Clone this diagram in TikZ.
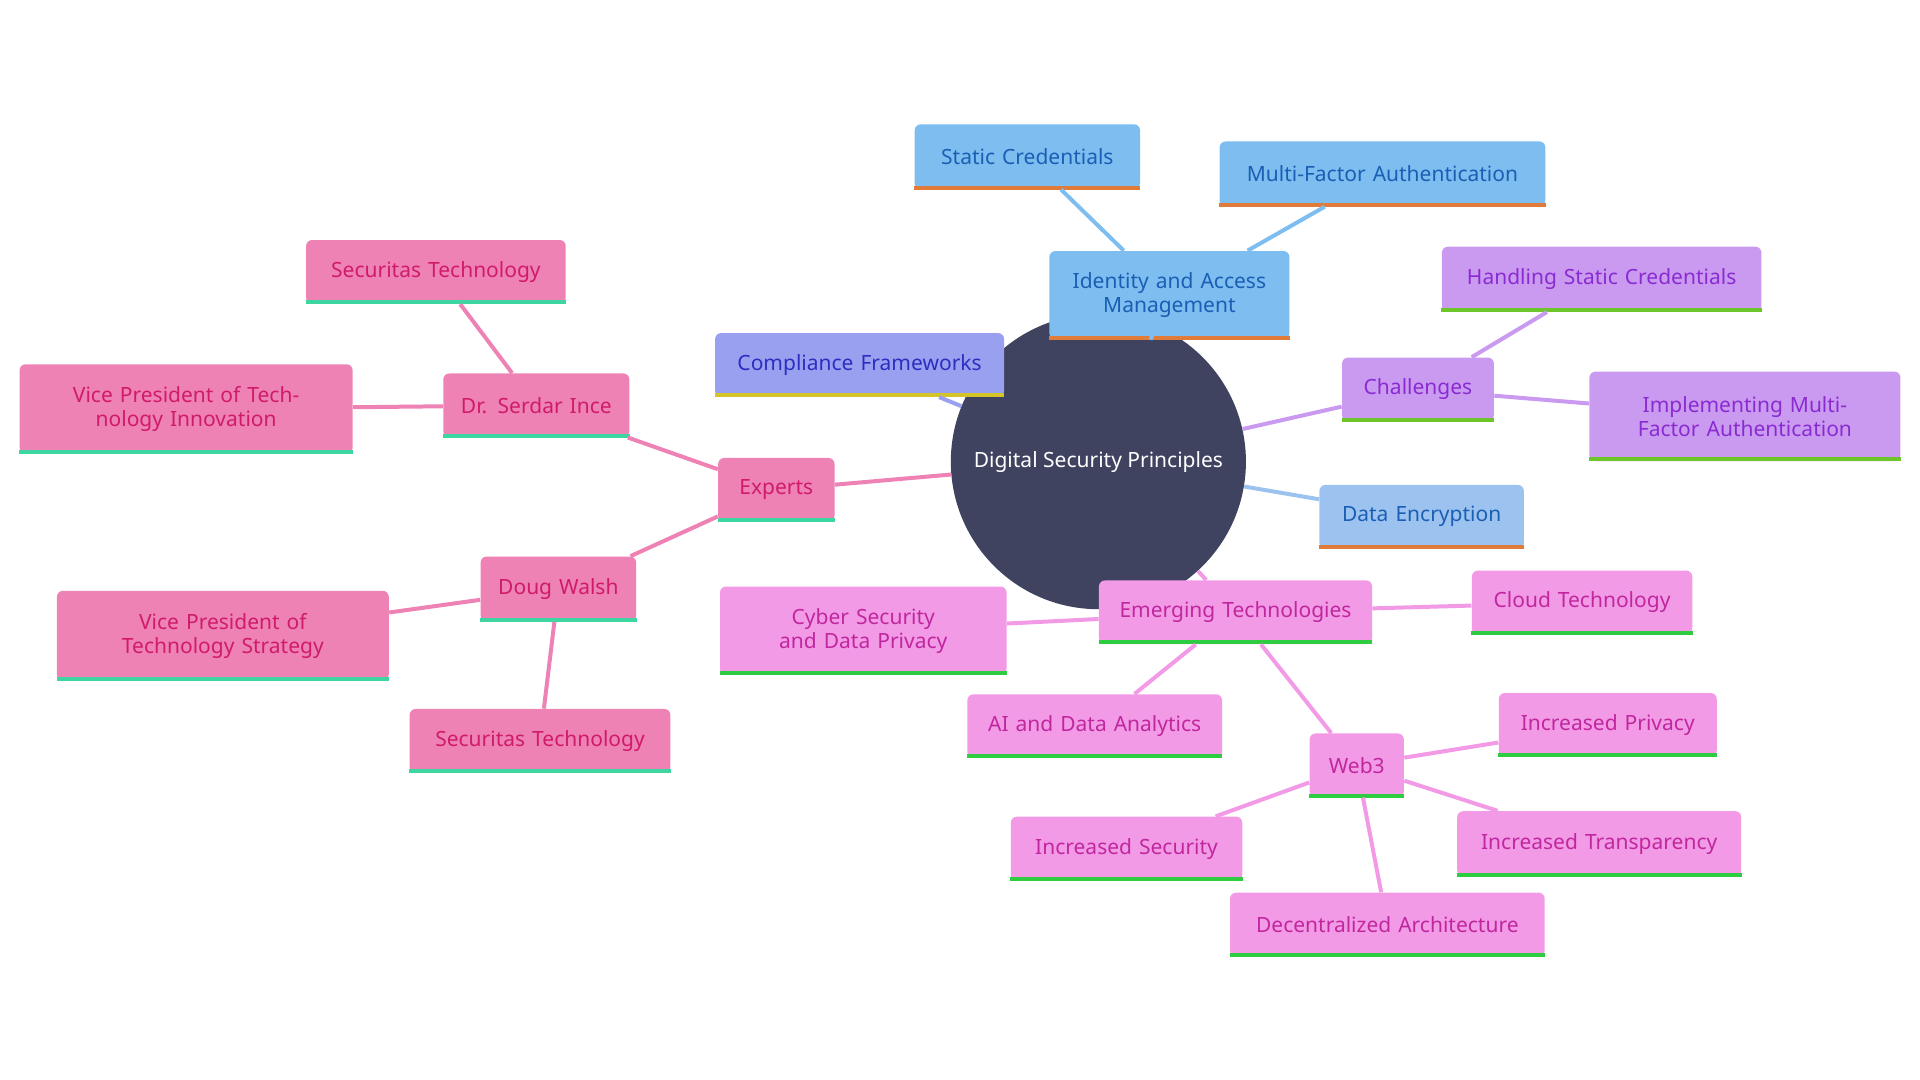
\documentclass[tikz,border=0pt]{standalone}
\usepackage{fontspec}
\setmainfont{Noto Sans}
\definecolor{bluF}{HTML}{7DBDF0}\definecolor{bluT}{HTML}{1A5FB4}\definecolor{bluB}{HTML}{E07B39}
\definecolor{bl2F}{HTML}{9CC3F0}
\definecolor{indF}{HTML}{9AA0F0}\definecolor{indT}{HTML}{2B2FC0}\definecolor{indB}{HTML}{D4C42A}
\definecolor{vioF}{HTML}{C99AF0}\definecolor{vioT}{HTML}{8A2BD2}\definecolor{vioB}{HTML}{6CC62A}
\definecolor{magF}{HTML}{F39AE6}\definecolor{magT}{HTML}{C0279F}\definecolor{magB}{HTML}{2ECC40}
\definecolor{pnkF}{HTML}{EE82B4}\definecolor{pnkT}{HTML}{D01B6A}\definecolor{pnkB}{HTML}{3DD6A0}
\definecolor{hub}{HTML}{3F4360}
\newcommand\mmnode[9]{%
  \node[mmbox,fill=#6,text=#7,minimum width={#4*0.6122pt},minimum height={#5*0.6122pt},text width={(#4-24)*0.6122pt}] (#1) at (#2,#3) {#9};
  \draw[#8,line width=2pt] ([yshift=1pt]#1.south west) -- ([yshift=1pt]#1.south east);}
\begin{document}
\begin{tikzpicture}[x=0.6122pt,y=-0.6122pt,
  mmbox/.style={rounded corners=3pt,inner sep=0pt,align=center,font=\fontsize{10.5}{12}\selectfont},
  edge/.style={line width=2pt}]
\useasboundingbox (0,0) rectangle (1568,882);
\node[circle,fill=hub,minimum size={241*0.6122pt},text=white,font=\fontsize{10.5}{12}\selectfont,inner sep=0pt] (hub) at (897,377) {Digital Security Principles};
% nodes
\begin{scope}[on background layer/.style={}]
\end{scope}
\mmnode{iam}{955}{241}{196}{72}{bluF}{bluT}{bluB}{Identity and Access Management}
\mmnode{sc}{839}{128}{184}{53}{bluF}{bluT}{bluB}{Static Credentials}
\mmnode{mfa}{1129}{142}{266}{53}{bluF}{bluT}{bluB}{Multi-Factor Authentication}
\mmnode{cf}{702}{298}{236}{52}{indF}{indT}{indB}{Compliance Frameworks}
\mmnode{ch}{1158}{318}{124}{52}{vioF}{vioT}{vioB}{Challenges}
\mmnode{hsc}{1308}{228}{261}{53}{vioF}{vioT}{vioB}{Handling Static Credentials}
\mmnode{imfa}{1425}{340}{254}{73}{vioF}{vioT}{vioB}{Implementing Multi-Factor Authentication}
\mmnode{de}{1161}{422}{167}{52}{bl2F}{bluT}{bluB}{Data Encryption}
\mmnode{et}{1009}{500}{223}{52}{magF}{magT}{magB}{Emerging Technologies}
\mmnode{ct}{1292}{492}{180}{52}{magF}{magT}{magB}{Cloud Technology}
\mmnode{csdp}{705}{515}{234}{72}{magF}{magT}{magB}{Cyber Security and Data Privacy}
\mmnode{ai}{894}{593}{208}{52}{magF}{magT}{magB}{AI and Data Analytics}
\mmnode{w3}{1108}{625}{77}{52}{magF}{magT}{magB}{Web3}
\mmnode{ip}{1313}{592}{178}{52}{magF}{magT}{magB}{Increased Privacy}
\mmnode{it}{1306}{689}{232}{53}{magF}{magT}{magB}{Increased Transparency}
\mmnode{is}{920}{693}{189}{52}{magF}{magT}{magB}{Increased Security}
\mmnode{da}{1133}{755}{257}{52}{magF}{magT}{magB}{Decentralized Architecture}
\mmnode{ex}{634}{400}{95}{52}{pnkF}{pnkT}{pnkB}{Experts}
\mmnode{dsi}{438}{331}{152}{52}{pnkF}{pnkT}{pnkB}{Dr. Serdar Ince}
\mmnode{st1}{356}{222}{212}{52}{pnkF}{pnkT}{pnkB}{Securitas Technology}
\mmnode{vpi}{152}{334}{272}{73}{pnkF}{pnkT}{pnkB}{Vice President of Technology Innovation}
\mmnode{dw}{456}{481}{127}{53}{pnkF}{pnkT}{pnkB}{Doug Walsh}
\mmnode{vps}{182}{519}{271}{73}{pnkF}{pnkT}{pnkB}{Vice President of Technology Strategy}
\mmnode{st2}{441}{605}{213}{52}{pnkF}{pnkT}{pnkB}{Securitas Technology}
% edges (drawn behind via pgfonlayer-free approach: redraw boxes order not needed since edges end at borders)
\begin{scope}[edge]
\draw[bluF] (hub) -- (iam); \draw[bluF] (iam) -- (sc); \draw[bluF] (iam) -- (mfa);
\draw[indF] (hub) -- (cf);
\draw[vioF] (hub) -- (ch); \draw[vioF] (ch) -- (hsc); \draw[vioF] (ch) -- (imfa);
\draw[bl2F] (hub) -- (de);
\draw[magF] (hub) -- (et); \draw[magF] (et) -- (ct); \draw[magF] (et) -- (csdp); \draw[magF] (et) -- (ai); \draw[magF] (et) -- (w3);
\draw[magF] (w3) -- (ip); \draw[magF] (w3) -- (it); \draw[magF] (w3) -- (is); \draw[magF] (w3) -- (da);
\draw[pnkF] (hub) -- (ex); \draw[pnkF] (ex) -- (dsi); \draw[pnkF] (dsi) -- (st1); \draw[pnkF] (dsi) -- (vpi);
\draw[pnkF] (ex) -- (dw); \draw[pnkF] (dw) -- (vps); \draw[pnkF] (dw) -- (st2);
\end{scope}
\end{tikzpicture}
\end{document}
